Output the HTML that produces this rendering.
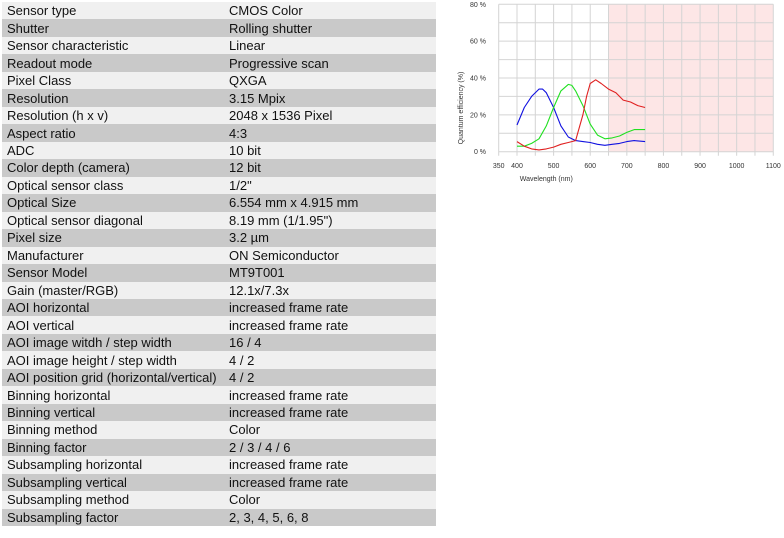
<!DOCTYPE html>
<html><head><meta charset="utf-8"><style>
body{margin:0;width:784px;height:538px;background:#fff;font-family:"Liberation Sans",sans-serif;position:relative;overflow:hidden}
#tbl{position:absolute;left:2px;top:2px;width:434px;border-collapse:collapse;font-size:13px;color:#111}
#tbl td{height:17.47px;padding:0 0 0 5px;line-height:17px;white-space:nowrap}
#tbl tr:nth-child(odd){background:#f0f0f0}
#tbl tr:nth-child(even){background:#c9c9c9}
#tbl td:first-child{width:217px}
svg{position:absolute;left:0;top:0}
</style></head><body>
<table id="tbl"><tbody id="tb"></tbody></table>
<svg width="784" height="538" id="chart"></svg>
<script>
const rows=[["Sensor type","CMOS Color"],["Shutter","Rolling shutter"],["Sensor characteristic","Linear"],["Readout mode","Progressive scan"],["Pixel Class","QXGA"],["Resolution","3.15 Mpix"],["Resolution (h x v)","2048 x 1536 Pixel"],["Aspect ratio","4:3"],["ADC","10 bit"],["Color depth (camera)","12 bit"],["Optical sensor class","1/2\""],["Optical Size","6.554 mm x 4.915 mm"],["Optical sensor diagonal","8.19 mm (1/1.95\")"],["Pixel size","3.2 µm"],["Manufacturer","ON Semiconductor"],["Sensor Model","MT9T001"],["Gain (master/RGB)","12.1x/7.3x"],["AOI horizontal","increased frame rate"],["AOI vertical","increased frame rate"],["AOI image witdh / step width","16 / 4"],["AOI image height / step width","4 / 2"],["AOI position grid (horizontal/vertical)","4 / 2"],["Binning horizontal","increased frame rate"],["Binning vertical","increased frame rate"],["Binning method","Color"],["Binning factor","2 / 3 / 4 / 6"],["Subsampling horizontal","increased frame rate"],["Subsampling vertical","increased frame rate"],["Subsampling method","Color"],["Subsampling factor","2, 3, 4, 5, 6, 8"]];
const tb=document.getElementById('tb');
rows.forEach(r=>{const tr=document.createElement('tr');


r.forEach(c=>{const td=document.createElement('td');td.textContent=c;tr.appendChild(td);});tb.appendChild(tr);});

const blueX=[400,420,440,460,470,480,500,520,540,560,580,600,620,640,660,680,700,720,750];
const blueY=[14.5,24,30,34,34,32,24,14,8,6,5.5,5,4,3.5,4,4.5,5.5,6,5.5];
const greenX=[400,420,440,460,480,500,520,540,550,560,580,600,620,640,660,680,700,720,750];
const greenY=[3,3,4.5,7,14,24,33,36.5,36,33,25,15,9,7,7.5,8.5,10.5,12,12];
const redX=[400,420,440,460,480,500,520,540,560,580,590,600,615,630,650,670,690,710,730,750];
const redY=[5.5,3,1.5,1,1.5,2.5,4,5,6,20,30,37,39,37,34,32,28,27,25,24];
const xTicks=[350,400,500,600,700,800,900,1000,1100];
const yTicks=[0,20,40,60,80];

const ns='http://www.w3.org/2000/svg',svg=document.getElementById('chart');
const X=v=>498.7+(v-350)*0.3661, Y=v=>151.7-v*1.8425;
function el(t,a,p){const e=document.createElementNS(ns,t);for(const k in a)e.setAttribute(k,a[k]);(p||svg).appendChild(e);return e;}
const bg=el('rect',{x:X(650),y:Y(80),width:X(1100)-X(650),height:Y(0)-Y(80),fill:'#fde6e6'});


for(let v=350;v<=1100;v+=50){const l=el('line',{x1:X(v),x2:X(v),y1:Y(80),y2:Y(0)+4,stroke:'#d4d4d4','stroke-width':1});

}
for(let v=0;v<=80;v+=10){const l=el('line',{x1:X(350),x2:X(1100),y1:Y(v),y2:Y(v),stroke:'#d4d4d4','stroke-width':1});

}
yTicks.forEach(v=>{const t=el('text',{x:486,y:Y(v)+2.5,'text-anchor':'end','font-size':7,fill:'#333'});t.textContent=v+' %';

});
xTicks.forEach(v=>{const t=el('text',{x:X(v),y:168,'text-anchor':'middle','font-size':7,fill:'#333'});t.textContent=v;

});
const xt=el('text',{x:X(480),y:181,'text-anchor':'middle','font-size':7,fill:'#333'});xt.textContent='Wavelength (nm)';


const yt=el('text',{x:0,y:0,'text-anchor':'middle','font-size':7,fill:'#333',transform:'translate(463,108) rotate(-90)'});yt.textContent='Quantum efficiency (%)';


function line(xs,ys,c,n){const d=xs.map((x,i)=>(i?'L':'M')+X(x).toFixed(1)+','+Y(ys[i]).toFixed(1)).join(' ');
const p=el('path',{d:d,fill:'none',stroke:c,'stroke-width':1.1,'stroke-linejoin':'round'});

}
line(blueX,blueY,'#1010e0','blue-qe-line');
line(greenX,greenY,'#20e020','green-qe-line');
line(redX,redY,'#e02020','red-qe-line');
</script>
</body></html>
